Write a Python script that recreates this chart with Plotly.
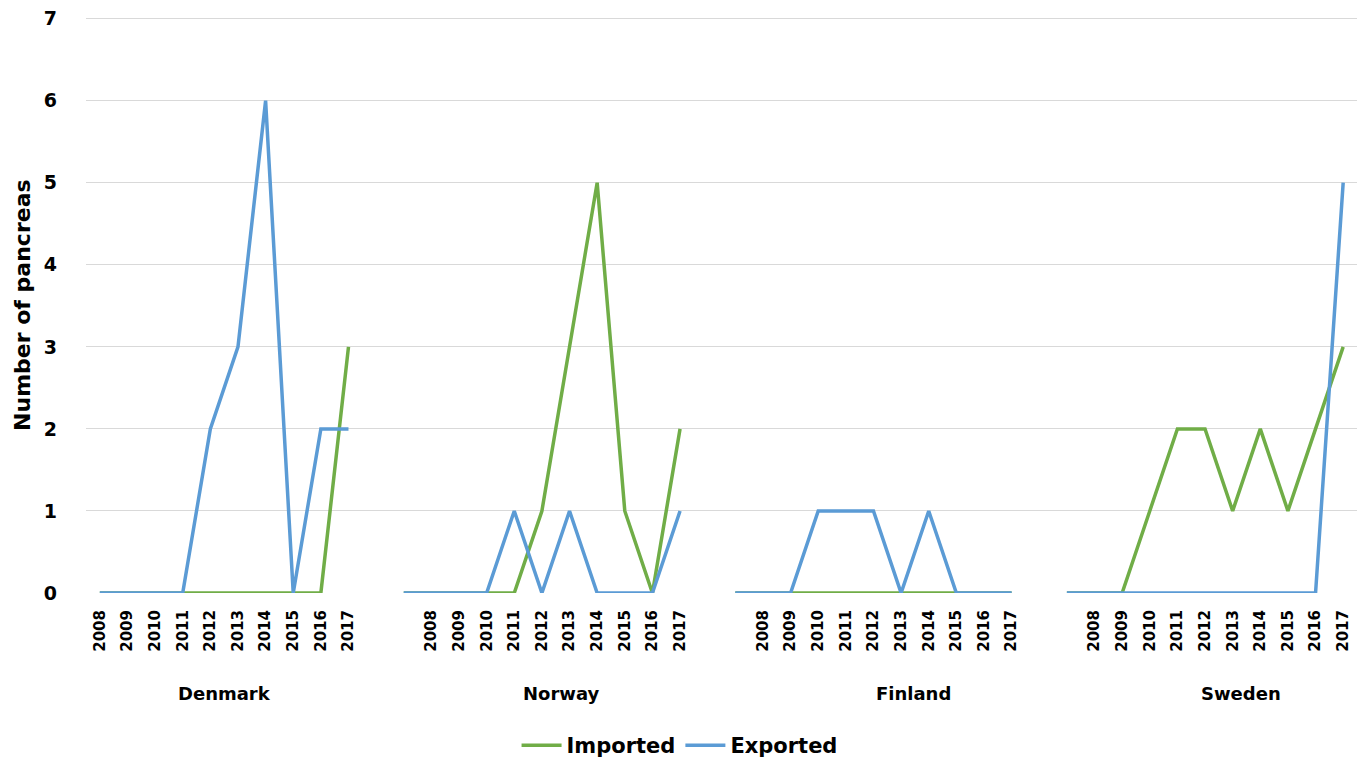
import plotly.graph_objects as go

years = [2008, 2009, 2010, 2011, 2012, 2013, 2014, 2015, 2016, 2017]
countries = ["Denmark", "Norway", "Finland", "Sweden"]

# values per year (2008..2017)
imported_denmark = [0, 0, 0, 0, 0, 0, 0, 0, 0, 3]
imported_norway = [0, 0, 0, 0, 1, 3, 5, 1, 0, 2]
imported_finland = [0, 0, 0, 0, 0, 0, 0, 0, 0, 0]
imported_sweden = [0, 0, 1, 2, 2, 1, 2, 1, 2, 3]

exported_denmark = [0, 0, 0, 0, 2, 3, 6, 0, 2, 2]
exported_norway = [0, 0, 0, 1, 0, 1, 0, 0, 0, 1]
exported_finland = [0, 0, 1, 1, 1, 0, 1, 0, 0, 0]
exported_sweden = [0, 0, 0, 0, 0, 0, 0, 0, 0, 5]

# value on the unlabeled spacer row just before each country block (None = no row)
spacer_imported = [None, 0, 0, 0]
spacer_exported = [None, 0, 0, 0]

imported = [imported_denmark, imported_norway, imported_finland, imported_sweden]
exported = [exported_denmark, exported_norway, exported_finland, exported_sweden]

STRIDE = len(years) + 2  # 10 year slots + 2 spacer slots per block


def build(series, spacer):
    xs, ys = [], []
    for g, vals in enumerate(series):
        base = g * STRIDE
        if spacer[g] is not None:
            xs.append(base - 1)
            ys.append(spacer[g])
        for i, v in enumerate(vals):
            xs.append(base + i)
            ys.append(v)
        xs.append(base + len(years))
        ys.append(None)
    return xs, ys


GREEN = "#70AD47"
BLUE = "#5B9BD5"
FONT = "DejaVu Sans"

fig = go.Figure()
xi, yi = build(imported, spacer_imported)
xe, ye = build(exported, spacer_exported)
fig.add_trace(go.Scatter(x=xi, y=yi, mode="lines", name="Imported",
                         line=dict(color=GREEN, width=3.5), connectgaps=False))
fig.add_trace(go.Scatter(x=xe, y=ye, mode="lines", name="Exported",
                         line=dict(color=BLUE, width=3.5), connectgaps=False))

tickvals, ticktext = [], []
for g in range(len(countries)):
    for i, y in enumerate(years):
        tickvals.append(g * STRIDE + i)
        ticktext.append(str(y))

n_slots = (len(countries) - 1) * STRIDE + len(years)

label_x = [4.5, 16.7, 29.45, 41.3]
annotations = []
for g, c in enumerate(countries):
    annotations.append(dict(x=label_x[g], y=-0.174, xref="x", yref="paper",
                            text=c, showarrow=False, xanchor="center", yanchor="middle",
                            font=dict(family=FONT, size=18, color="#000000", weight="bold")))
annotations.append(dict(x=-0.0504, y=0.5, xref="paper", yref="paper",
                        text="Number of pancreas", textangle=-90, showarrow=False,
                        xanchor="center", yanchor="middle",
                        font=dict(family=FONT, size=22, color="#000000", weight="bold")))

fig.update_layout(
    width=1359, height=752,
    margin=dict(l=78, r=10, t=9, b=167, autoexpand=False),
    paper_bgcolor="white", plot_bgcolor="white",
    showlegend=True,
    legend=dict(orientation="h", x=0.467, xanchor="center", y=-0.265, yanchor="middle",
                font=dict(family=FONT, size=21, color="#000000", weight="bold"),
                itemwidth=40, traceorder="normal"),
    annotations=annotations,
    xaxis=dict(range=[-0.5, n_slots - 0.5], tickmode="array", tickvals=tickvals,
               ticktext=ticktext, tickangle=-90, showgrid=False, zeroline=False,
               showline=False, ticks="", ticklabelstandoff=13, automargin=False,
               tickfont=dict(family=FONT, size=15, color="#000000", weight="bold")),
    yaxis=dict(range=[0, 7.02], tickmode="array", tickvals=[0, 1, 2, 3, 4, 5, 6, 7],
               showgrid=True, gridcolor="#D9D9D9",
               gridwidth=1.3, zeroline=False, showline=False, ticks="",
               ticklabelstandoff=28, automargin=False, ticklabeloverflow="allow",
               tickfont=dict(family=FONT, size=19, color="#000000", weight="bold")),
)

fig.write_html("out.html")
